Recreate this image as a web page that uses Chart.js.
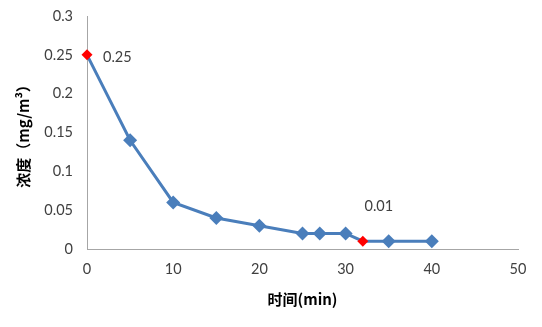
<!DOCTYPE html>
<html>
<head>
<meta charset="utf-8">
<script src="https://cdn.jsdelivr.net/npm/chart.js@4.4.0/dist/chart.umd.min.js"></script>
<style>
  html, body { margin: 0; padding: 0; background: #fff; }
  #wrap { width: 542px; height: 327px; }
</style>
</head>
<body>
<div id="wrap"><canvas id="chart" width="542" height="327"></canvas></div>
<script>
// time (min) and concentration (mg/m3)
const times = [0, 5, 10, 15, 20, 25, 27, 30, 32, 35, 40];
const conc = [0.25, 0.14, 0.06, 0.04, 0.03, 0.02, 0.02, 0.02, 0.01, 0.01, 0.01];
// points drawn in red, with their value written beside them
const markedIdx = [0, 8];
const markedText = ['0.25', '0.01'];
const xTicks = [0, 10, 20, 30, 40, 50];
const yTicks = [0, 0.05, 0.1, 0.15, 0.2, 0.25, 0.3];

const blue = '#4a7ebb';
const red = '#ff0000';
const tickFont = { family: 'Lato, "Liberation Sans", sans-serif', size: 14.5 };
const titleFont = { family: '"Noto Sans CJK SC", sans-serif', size: 15, weight: 'bold' };

const pointColors = times.map((t, i) => markedIdx.includes(i) ? red : blue);
const pointSizes = times.map((t, i) => markedIdx.includes(i) ? 5.5 : 7);

// writes the value labels for the red points
const valueLabels = {
    id: 'valueLabels',
    afterDatasetsDraw(chart) {
        const ctx = chart.ctx;
        const meta = chart.getDatasetMeta(0);
        ctx.save();
        ctx.font = '14.5px Lato, "Liberation Sans", sans-serif';
        ctx.fillStyle = '#404040';
        ctx.textBaseline = 'middle';
        markedIdx.forEach((idx, k) => {
            const p = meta.data[idx];
            if (k === 0) {
                ctx.textAlign = 'left';
                ctx.fillText(markedText[k], p.x + 16, p.y + 2);
            } else {
                ctx.textAlign = 'center';
                ctx.fillText(markedText[k], p.x + 16, p.y - 35);
            }
        });
        ctx.restore();
    }
};

new Chart(document.getElementById('chart'), {
    type: 'scatter',
    data: {
        datasets: [{
            data: times.map((t, i) => ({ x: t, y: conc[i] })),
            showLine: true,
            clip: false,
            borderColor: blue,
            borderWidth: 3,
            pointStyle: 'rectRot',
            pointRadius: pointSizes,
            pointHoverRadius: pointSizes,
            pointBackgroundColor: pointColors,
            pointBorderColor: pointColors,
            pointBorderWidth: 0,
            tension: 0
        }]
    },
    options: {
        responsive: false,
        animation: false,
        layout: { padding: { top: 16, right: 24, left: 10, bottom: 15 } },
        plugins: {
            legend: { display: false },
            tooltip: { enabled: false }
        },
        scales: {
            x: {
                type: 'linear',
                min: 0,
                max: 50,
                afterBuildTicks: s => { s.ticks = xTicks.map(v => ({ value: v })); },
                grid: { display: false, drawTicks: false },
                border: { color: '#a6a6a6', width: 1 },
                ticks: { font: tickFont, color: '#404040', padding: 12 },
                title: { display: true, text: '时间(min)', font: titleFont, color: '#000', padding: { top: 3 } },
                afterFit: s => { s.height = 327 - 249 - 15; }
            },
            y: {
                min: 0,
                max: 0.3,
                afterBuildTicks: s => { s.ticks = yTicks.map(v => ({ value: v })); },
                grid: { display: false, drawTicks: false },
                border: { color: '#a6a6a6', width: 1 },
                ticks: { font: tickFont, color: '#404040', padding: 14, callback: v => String(+v.toFixed(2)) },
                title: { display: true, text: '浓度（mg/m³）', font: titleFont, color: '#000', padding: { bottom: 2 } },
                afterFit: s => { s.width = 87 - 10; s.paddingTop = 0; s.paddingBottom = 0; }
            }
        }
    },
    plugins: [valueLabels]
});
</script>
</body>
</html>
